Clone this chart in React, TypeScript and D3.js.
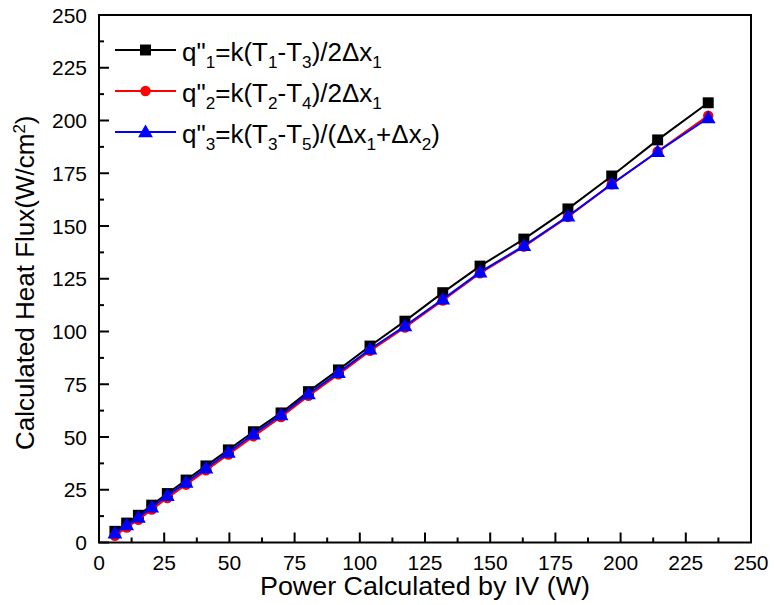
import React from 'react';
import * as d3 from 'd3';

// power (W)
const power = [6.1, 10.6, 15.1, 20.2, 26.2, 33.4, 41.0, 49.6, 59.2, 69.8, 80.3, 91.8, 103.9, 117.3, 131.8, 146.1, 162.9, 179.8, 196.6, 214.2, 233.6];
const q1 = [5.3, 9.2, 12.9, 17.7, 23.2, 29.6, 36.3, 43.9, 52.5, 61.4, 71.5, 81.8, 93.1, 104.9, 118.4, 131.0, 143.8, 158.1, 173.7, 190.8, 208.4];
const q2 = [3.2, 7.1, 10.8, 15.6, 21.1, 27.4, 34.2, 41.7, 50.3, 59.5, 69.5, 79.7, 90.8, 101.9, 114.7, 127.6, 140.2, 154.3, 169.8, 185.3, 202.3];
const q3 = [4.4, 8.3, 11.9, 16.7, 22.2, 28.5, 35.2, 42.7, 51.3, 60.4, 70.4, 80.5, 91.6, 102.6, 115.3, 128.1, 140.6, 154.6, 169.9, 185.2, 201.2];

const xTickVals = [0, 25, 50, 75, 100, 125, 150, 175, 200, 225, 250];
const yTickVals = [0, 25, 50, 75, 100, 125, 150, 175, 200, 225, 250];

// legend labels: [text, isSub]
const label1: [string, boolean][] = [['q"', false], ['1', true], ['=k(T', false], ['1', true], ['-T', false], ['3', true], [')/2Δx', false], ['1', true]];
const label2: [string, boolean][] = [['q"', false], ['2', true], ['=k(T', false], ['2', true], ['-T', false], ['4', true], [')/2Δx', false], ['1', true]];
const label3: [string, boolean][] = [['q"', false], ['3', true], ['=k(T', false], ['3', true], ['-T', false], ['5', true], [')/(Δx', false], ['1', true], ['+Δx', false], ['2', true], [')', false]];

const FONT = '"Liberation Sans", Arial, sans-serif';

const series = [
  { name: 'q1', values: q1, color: '#000000', symbol: d3.symbolSquare, size: 120, label: label1 },
  { name: 'q2', values: q2, color: '#ff0000', symbol: d3.symbolCircle, size: 85, label: label2 },
  { name: 'q3', values: q3, color: '#0000ff', symbol: d3.symbolTriangle, size: 95, label: label3 },
];

function Rich({ parts, x, y, size }: { parts: [string, boolean][]; x: number; y: number; size: number }) {
  let off = 0;
  return (
    <text x={x} y={y} fontFamily={FONT} fontSize={size} fill="#000">
      {parts.map(([t, sub], i) => {
        const target = sub ? 7 : 0;
        const dy = target - off;
        off = target;
        return (
          <tspan key={i} dy={dy} fontSize={sub ? size * 0.66 : size}>{t}</tspan>
        );
      })}
    </text>
  );
}

export default function App() {
  const width = 774, height = 605;
  const x = d3.scaleLinear().domain([0, 250]).range([99, 751]);
  const y = d3.scaleLinear().domain([0, 250]).range([542.5, 15]);

  const line = d3.line<[number, number]>().x(d => x(d[0])).y(d => y(d[1]));
  const minorX = d3.range(12.5, 250, 25);
  const minorY = d3.range(12.5, 250, 25);

  return (
    <svg width={width} height={height} style={{ position: 'absolute', left: 0, top: 0, background: '#fff' }}>
      <rect x={0} y={0} width={width} height={height} fill="#fff" />

      {/* data */}
      {series.map(s => {
        const pts: [number, number][] = power.map((p, i) => [p, s.values[i]]);
        const sym = d3.symbol().type(s.symbol).size(s.size)();
        return (
          <g key={s.name}>
            <path d={line(pts) || ''} fill="none" stroke={s.color} strokeWidth={2} />
            {pts.map((d, i) => (
              <path key={i} d={sym || ''} transform={`translate(${x(d[0])},${y(d[1]) + (s.symbol === d3.symbolTriangle ? 1 : 0)})`} fill={s.color} />
            ))}
          </g>
        );
      })}

      {/* frame */}
      <rect x={x(0)} y={y(250)} width={x(250) - x(0)} height={y(0) - y(250)} fill="none" stroke="#000" strokeWidth={2} />

      {/* x ticks */}
      {xTickVals.map(v => (
        <g key={'xt' + v}>
          <line x1={x(v)} x2={x(v)} y1={y(0)} y2={y(0) - 10} stroke="#000" strokeWidth={2} />
          <text x={x(v)} y={570} textAnchor="middle" fontFamily={FONT} fontSize={21}>{v}</text>
        </g>
      ))}
      {minorX.map(v => (
        <line key={'xm' + v} x1={x(v)} x2={x(v)} y1={y(0)} y2={y(0) - 5} stroke="#000" strokeWidth={2} />
      ))}

      {/* y ticks */}
      {yTickVals.map(v => (
        <g key={'yt' + v}>
          <line x1={x(0)} x2={x(0) + 10} y1={y(v)} y2={y(v)} stroke="#000" strokeWidth={2} />
          <text x={87} y={y(v) + 7.5} textAnchor="end" fontFamily={FONT} fontSize={21}>{v}</text>
        </g>
      ))}
      {minorY.map(v => (
        <line key={'ym' + v} x1={x(0)} x2={x(0) + 5} y1={y(v)} y2={y(v)} stroke="#000" strokeWidth={2} />
      ))}

      {/* axis titles */}
      <text x={(x(0) + x(250)) / 2} y={595} textAnchor="middle" fontFamily={FONT} fontSize={25} textLength={330} lengthAdjust="spacingAndGlyphs">Power Calculated by IV (W)</text>
      <text transform={`translate(34,${(y(0) + y(250)) / 2 + 4}) rotate(-90)`} textAnchor="middle" fontFamily={FONT} fontSize={26}>
        Calculated Heat Flux(W/cm<tspan dy={-9} fontSize={17}>2</tspan><tspan dy={9}>)</tspan>
      </text>

      {/* legend */}
      {series.map((s, i) => {
        const ly = 50 + i * 41;
        const sym = d3.symbol().type(s.symbol).size(s.size)();
        return (
          <g key={'lg' + s.name}>
            <line x1={115} x2={176} y1={ly} y2={ly} stroke={s.color} strokeWidth={2} />
            <path d={sym || ''} transform={`translate(145.5,${ly + (s.symbol === d3.symbolTriangle ? 1 : 0)})`} fill={s.color} />
            <Rich parts={s.label} x={182} y={ly + 11} size={26} />
          </g>
        );
      })}
    </svg>
  );
}
